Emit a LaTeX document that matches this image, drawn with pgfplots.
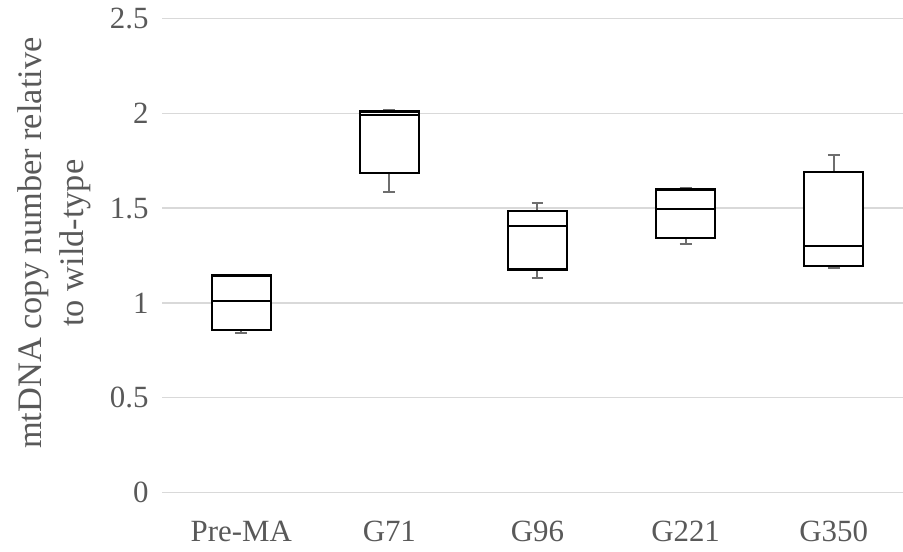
\documentclass[border=0pt]{standalone}
\usepackage{pgfplots}
\pgfplotsset{compat=1.18}
\usepgfplotslibrary{statistics}
\usepackage{fontspec}
\setmainfont{Liberation Serif}
\definecolor{txtgrey}{HTML}{595959}
\definecolor{gridgrey}{HTML}{D9D9D9}
\definecolor{whgrey}{HTML}{6E6E6E}
\begin{document}
\begin{tikzpicture}
\useasboundingbox (0,0) rectangle (903bp,552bp);
\begin{axis}[
  at={(162bp,59.3bp)}, anchor=south west,
  scale only axis, width=741bp, height=474.4bp,
  xmin=-0.535, xmax=4.468, ymin=0, ymax=2.5,
  ytick={0,0.5,1,1.5,2,2.5},
  xtick={0,1,2,3,4},
  xticklabels={Pre-MA,G71,G96,G221,G350},
  /pgf/number format/assume math mode=true,
  ymajorgrids, major grid style={draw=gridgrey, line width=1.3bp},
  axis line style={draw=none},
  major tick length=0pt,
  tick style={draw=none},
  clip=false,
  ticklabel style={font=\fontsize{31}{36}\selectfont, text=txtgrey},
  yticklabel style={xshift=-10bp},
  xticklabel style={yshift=-25bp},
  ylabel={mtDNA copy number relative\\to wild-type},
  ylabel style={font=\fontsize{34.5}{42}\selectfont, text=txtgrey, align=center,
    at={(axis description cs:-0.145,0.526)}, anchor=center},
  boxplot/draw direction=y,
  boxplot/every box/.style={draw=black, line width=2.2bp, fill=white},
  boxplot/every whisker/.style={draw=whgrey, line width=2bp},
  boxplot/every median/.style={draw=black, line width=2.2bp},
]
\addplot[boxplot prepared={draw position=0, lower whisker=0.844, lower quartile=0.856, median=1.011, upper quartile=1.145, upper whisker=1.149, box extend=0.4, whisker extend=0.08}] coordinates {};
\addplot[boxplot prepared={draw position=1, lower whisker=1.584, lower quartile=1.684, median=1.990, upper quartile=2.009, upper whisker=2.016, box extend=0.4, whisker extend=0.08}] coordinates {};
\addplot[boxplot prepared={draw position=2, lower whisker=1.134, lower quartile=1.176, median=1.405, upper quartile=1.483, upper whisker=1.528, box extend=0.4, whisker extend=0.08}] coordinates {};
\addplot[boxplot prepared={draw position=3, lower whisker=1.309, lower quartile=1.342, median=1.495, upper quartile=1.598, upper whisker=1.607, box extend=0.4, whisker extend=0.08}] coordinates {};
\addplot[boxplot prepared={draw position=4, lower whisker=1.186, lower quartile=1.193, median=1.298, upper quartile=1.689, upper whisker=1.779, box extend=0.4, whisker extend=0.08}] coordinates {};
\end{axis}
\end{tikzpicture}
\end{document}
